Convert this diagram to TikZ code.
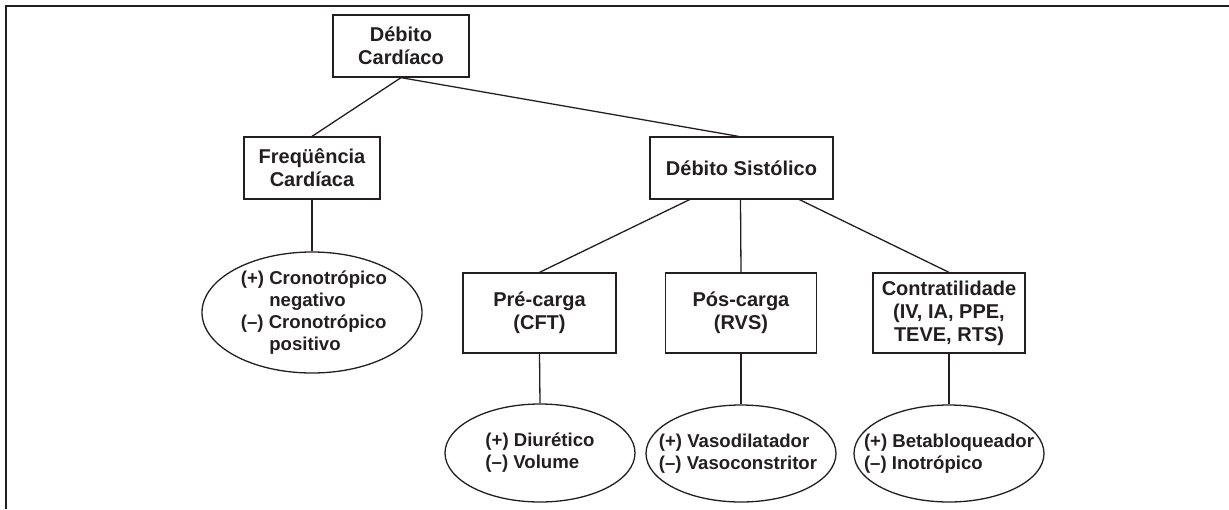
\documentclass[tikz,border=0pt]{standalone}
\usepackage{fontspec}
\setmainfont{Liberation Sans}
\usetikzlibrary{shapes.geometric}
\definecolor{ink}{RGB}{35,31,32}
\begin{document}
\begin{tikzpicture}[x=1pt,y=-1pt,
    every node/.style={font=\fontsize{20}{23}\selectfont\bfseries, text=ink},
    caixa/.style={draw=ink, line width=1.3pt, align=center, inner sep=0pt},
    oval/.style={draw=ink, line width=1.3pt, ellipse, inner sep=0pt},
    ovaltxt/.style={align=left, inner sep=0pt, font=\fontsize{18.6}{21.8}\selectfont\bfseries},
    liga/.style={draw=ink, line width=1.3pt}]
  \useasboundingbox (0,0) rectangle (1229,509);
  \draw[ink, line width=2.4pt] (6,509) -- (6,6) -- (1229,6);
  % caixas
  \node[caixa, minimum width=136pt, minimum height=62pt] (dc) at (401,46) {D\'ebito\\Card\'iaco};
  \node[caixa, minimum width=136pt, minimum height=62pt] (fc) at (312,168) {Freq\"u\^encia\\Card\'iaca};
  \node[caixa, minimum width=183pt, minimum height=62pt] (ds) at (741.5,168) {D\'ebito Sist\'olico};
  \node[caixa, minimum width=153pt, minimum height=80pt] (prec) at (539.5,313) {Pr\'e-carga\\(CFT)};
  \node[caixa, minimum width=151pt, minimum height=80pt] (posc) at (741,313) {P\'os-carga\\(RVS)};
  \node[caixa, minimum width=152pt, minimum height=80pt] (contr) at (949,313) {Contratilidade\\(IV, IA, PPE,\\TEVE, RTS)};
  % elipses
  \node[oval, minimum width=220pt, minimum height=121pt] (crono) at (312,312.5) {};
  \node[oval, minimum width=190pt, minimum height=98pt] (diur) at (540,453) {};
  \node[oval, minimum width=190pt, minimum height=97pt] (vaso) at (741,453.5) {};
  \node[oval, minimum width=190pt, minimum height=97pt] (beta) at (949,453.5) {};
  \node[ovaltxt] at ([xshift=2pt]crono.center) {(+) Cronotr\'opico\\\phantom{(+) }negativo\\(--) Cronotr\'opico\\\phantom{(+) }positivo};
  \node[ovaltxt] at (diur.center) {(+) Diur\'etico\\(--) Volume};
  \node[ovaltxt] at ([xshift=-3pt]vaso.center) {(+) Vasodilatador\\(--) Vasoconstritor};
  \node[ovaltxt] at (beta.center) {(+) Betabloqueador\\(--) Inotr\'opico};
  % ligacoes
  \path[liga] (dc.south) -- (fc.north);
  \path[liga] (dc.south) -- ([xshift=-3pt]ds.north);
  \path[liga] (fc.south) -- (crono.north);
  \path[liga] ([xshift=-52pt]ds.south) -- (prec.north);
  \path[liga] ([xshift=-1pt]ds.south) -- (posc.north);
  \path[liga] ([xshift=58pt]ds.south) -- (contr.north);
  \path[liga] (prec.south) -- (diur.north);
  \path[liga] (posc.south) -- (vaso.north);
  \path[liga] (contr.south) -- (beta.north);
\end{tikzpicture}
\end{document}
